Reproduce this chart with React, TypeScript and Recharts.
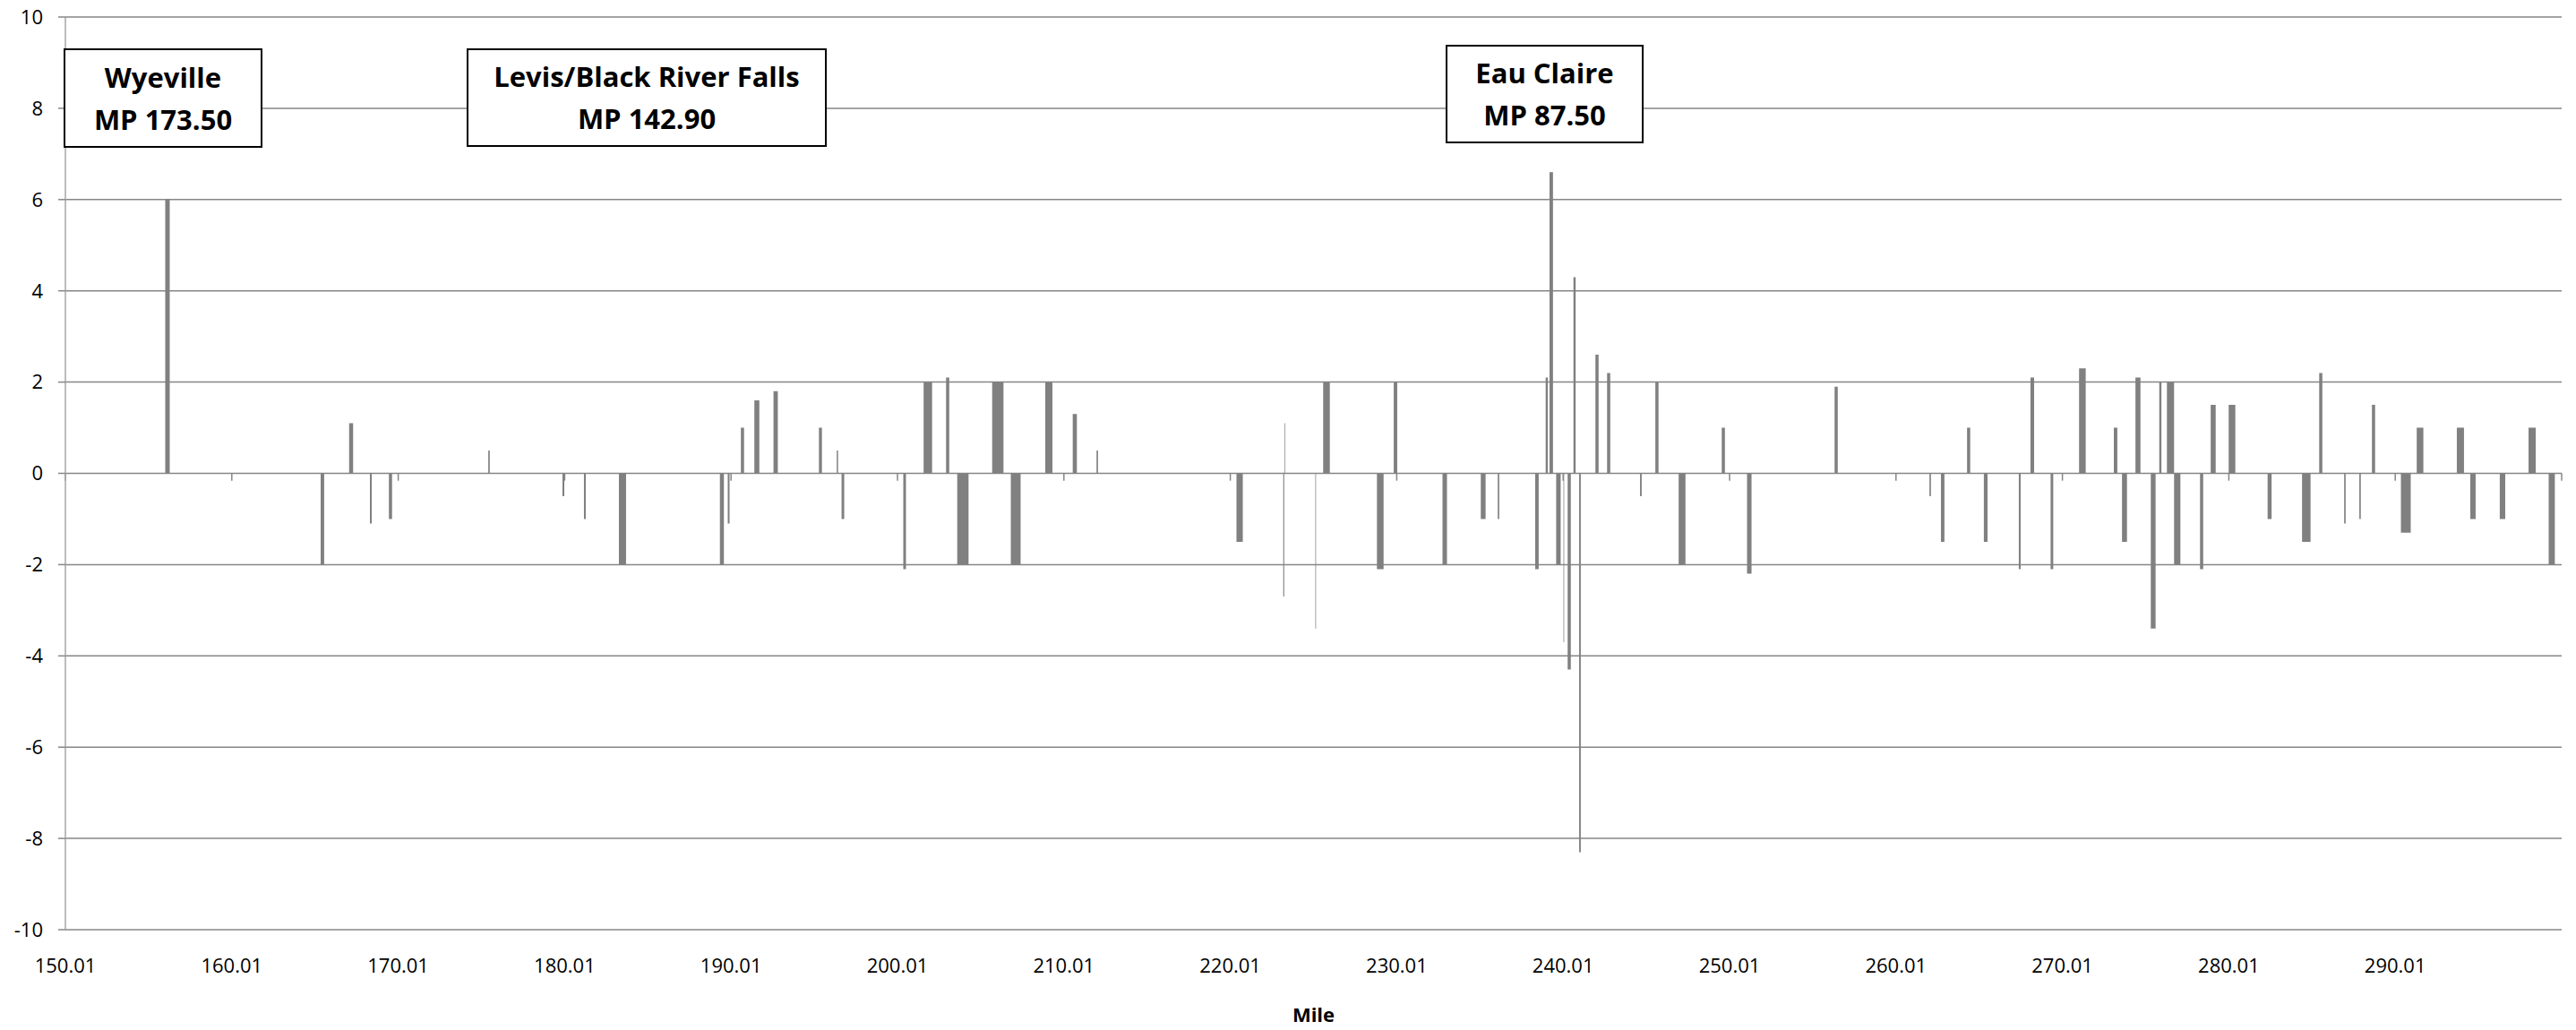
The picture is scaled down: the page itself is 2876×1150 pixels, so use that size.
import React from "react";
import { ComposedChart, Area, XAxis, YAxis, CartesianGrid, ReferenceLine } from "recharts";

// mile ranges of each deviation block and its value
const barStart = [
  156.01, 165.35, 167.06, 168.31, 169.45, 175.42, 179.88, 181.17, 183.27, 189.34,
  189.81, 190.6, 191.41, 192.56, 195.29, 196.36, 196.65, 200.36, 201.58, 202.93,
  203.6, 205.7, 206.82, 208.89, 210.54, 211.97, 220.38, 223.19, 223.26, 225.12,
  225.59, 228.82, 229.83, 232.76, 235.06, 236.08, 238.33, 238.96, 239.19, 239.59,
  240.03, 240.28, 240.63, 240.97, 241.95, 242.65, 244.63, 245.55, 246.95, 249.54,
  251.06, 256.32, 262.02, 262.71, 264.28, 265.29, 267.39, 268.09, 269.3, 271.01,
  273.1, 273.59, 274.4, 275.32, 275.83, 276.29, 276.72, 278.28, 278.92, 280.0,
  282.34, 284.41, 285.44, 286.94, 287.85, 288.61, 290.35, 291.3, 293.71, 294.52,
  296.29, 298.02, 299.23,
];
const barEnd = [
  156.28, 165.56, 167.3, 168.42, 169.64, 175.51, 179.99, 181.28, 183.7, 189.58,
  189.92, 190.79, 191.71, 192.82, 195.47, 196.44, 196.81, 200.52, 202.09, 203.12,
  204.28, 206.38, 207.41, 209.32, 210.79, 212.06, 220.76, 223.25, 223.3, 225.16,
  225.99, 229.22, 230.04, 233.03, 235.35, 236.17, 238.54, 239.09, 239.4, 239.86,
  240.07, 240.47, 240.76, 241.07, 242.14, 242.84, 244.73, 245.74, 247.36, 249.73,
  251.33, 256.51, 262.11, 262.92, 264.47, 265.51, 267.5, 268.31, 269.46, 271.41,
  273.31, 273.89, 274.7, 275.61, 275.96, 276.72, 277.1, 278.47, 279.22, 280.4,
  282.58, 284.92, 285.63, 287.03, 287.94, 288.8, 290.94, 291.7, 294.14, 294.84,
  296.62, 298.45, 299.6,
];
const barValue = [
  6.0, -2.0, 1.1, -1.1, -1.0, 0.5, -0.5, -1.0, -2.0, -2.0,
  -1.1, 1.0, 1.6, 1.8, 1.0, 0.5, -1.0, -2.1, 2.0, 2.1,
  -2.0, 2.0, -2.0, 2.0, 1.3, 0.5, -1.5, -2.7, 1.1, -3.4,
  2.0, -2.1, 2.0, -2.0, -1.0, -1.0, -2.1, 2.1, 6.6, -2.0,
  -3.7, -4.3, 4.3, -8.3, 2.6, 2.2, -0.5, 2.0, -2.0, 1.0,
  -2.2, 1.9, -0.5, -1.5, 1.0, -1.5, -2.1, 2.1, -2.1, 2.3,
  1.0, -1.5, 2.1, -3.4, 2.0, 2.0, -2.0, -2.1, 1.5, 1.5,
  -1.0, -1.5, 2.2, -1.1, -1.0, 1.5, -1.3, 1.0, 1.0, -1.0,
  -1.0, 1.0, -2.0,
];

const xTickLabels = [
  "150.01", "160.01", "170.01", "180.01", "190.01", "200.01", "210.01",
  "220.01", "230.01", "240.01", "250.01", "260.01", "270.01", "280.01", "290.01",
];
const yTicks = [-10, -8, -6, -4, -2, 0, 2, 4, 6, 8, 10];

const X_MIN = 150.01;
const X_MAX = 300.01;

const GRID = "#868686";
const FONT = "'Open Sans', sans-serif";

const xTicks = xTickLabels.map(Number);

// step outline: each block rises at its start and drops back to 0 at its end
const steps: { mile: number; value: number }[] = [{ mile: X_MIN, value: 0 }];
barStart.forEach((s, i) => {
  steps.push({ mile: s, value: barValue[i] });
  steps.push({ mile: barEnd[i], value: 0 });
});
steps.push({ mile: X_MAX, value: 0 });

const boxStyle: React.CSSProperties = {
  position: "absolute",
  boxSizing: "border-box",
  border: "2px solid #000",
  background: "#fff",
  display: "flex",
  flexDirection: "column",
  alignItems: "center",
  justifyContent: "center",
  fontFamily: FONT,
  fontWeight: 700,
  fontSize: 31,
  lineHeight: "47px",
  color: "#000",
};

export default function App() {
  return (
    <div style={{ position: "absolute", left: 0, top: 0, width: 2876, height: 1150, background: "#fff" }}>
      <ComposedChart
        width={2876}
        height={1150}
        data={steps}
        margin={{ top: 19, right: 16, left: 0, bottom: 52 }}
      >
        <CartesianGrid vertical={false} stroke={GRID} strokeWidth={1.5} />
        <XAxis
          type="number"
          dataKey="mile"
          domain={[X_MIN, X_MAX]}
          ticks={xTicks}
          interval={0}
          allowDataOverflow
          axisLine={false}
          tickLine={false}
          tickSize={0}
          tickMargin={32}
          height={60}
          tickFormatter={(v: number) => v.toFixed(2)}
          tick={{ fill: "#000", fontSize: 22, fontFamily: FONT }}
        />
        <YAxis
          type="number"
          domain={[-10, 10]}
          ticks={yTicks}
          interval={0}
          width={73}
          tickSize={8}
          tickMargin={17}
          axisLine={{ stroke: "#a6a6a6", strokeWidth: 1.5 }}
          tickLine={{ stroke: GRID, strokeWidth: 1.5 }}
          tick={{ fill: "#000", fontSize: 22, fontFamily: FONT }}
        />
        <Area
          type="stepAfter"
          dataKey="value"
          baseValue={0}
          stroke="none"
          fill="#808080"
          fillOpacity={1}
          dot={false}
          activeDot={false}
          isAnimationActive={false}
        />
        {[...xTicks, X_MAX].map((t) => (
          <ReferenceLine
            key={t}
            segment={[{ x: t, y: 0 }, { x: t, y: -0.16 }]}
            stroke={GRID}
            strokeWidth={1.5}
          />
        ))}
      </ComposedChart>

      <div style={{ ...boxStyle, left: 71, top: 54, width: 222, height: 111 }}>
        <div>Wyeville</div>
        <div>MP 173.50</div>
      </div>
      <div style={{ ...boxStyle, left: 521, top: 54, width: 402, height: 110 }}>
        <div>Levis/Black River Falls</div>
        <div>MP 142.90</div>
      </div>
      <div style={{ ...boxStyle, left: 1614, top: 50, width: 221, height: 110 }}>
        <div>Eau Claire</div>
        <div>MP 87.50</div>
      </div>

      <div
        style={{
          position: "absolute",
          left: 73,
          width: 2787,
          top: 1117,
          textAlign: "center",
          fontFamily: FONT,
          fontWeight: 700,
          fontSize: 22,
          color: "#000",
        }}
      >
        Mile
      </div>
    </div>
  );
}
